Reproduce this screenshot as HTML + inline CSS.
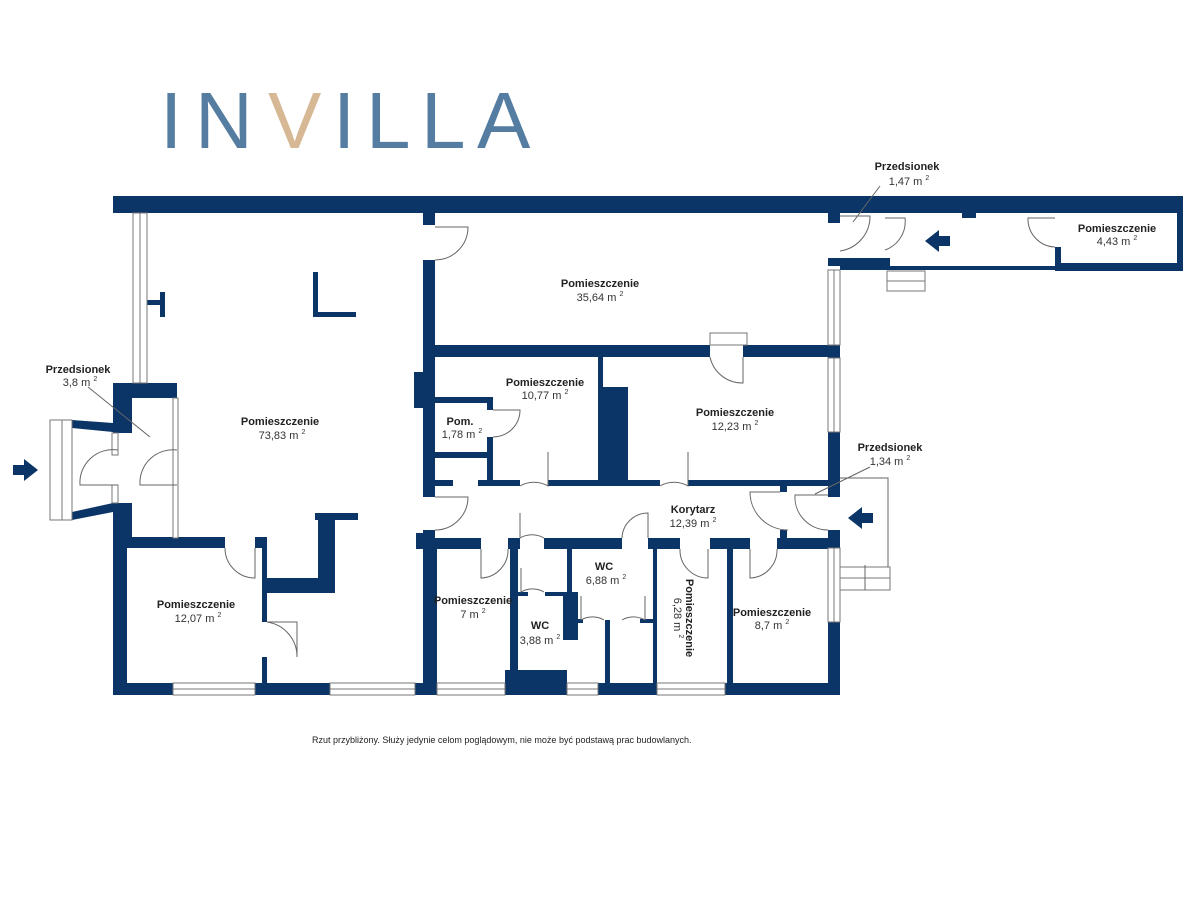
<!DOCTYPE html>
<html><head><meta charset="utf-8"><style>
html,body{margin:0;padding:0;background:#fff;width:1200px;height:900px;overflow:hidden}
svg{display:block}
.b{font:bold 11px "Liberation Sans",sans-serif;fill:#222}
.n{font:11px "Liberation Sans",sans-serif;fill:#333}
</style></head><body>
<svg width="1200" height="900" viewBox="0 0 1200 900" xmlns="http://www.w3.org/2000/svg">
<!-- logo -->
<g font-family="Liberation Sans, sans-serif" font-size="80" fill="#557da1">
<text x="160" y="148">I</text><text x="195" y="148">N</text>
<text x="268" y="148" fill="#d7b894">V</text>
<text x="333" y="148">I</text><text x="366" y="148">L</text><text x="421" y="148">L</text><text x="477" y="148">A</text>
</g>
<g fill="#0b3566">
<rect x="113" y="196" width="1070" height="17"/>
<rect x="1177" y="196" width="6" height="75"/>
<rect x="1055" y="247" width="6" height="24"/>
<rect x="1055" y="263" width="128" height="8"/>
<rect x="840" y="266" width="215" height="4"/>
<rect x="828" y="258" width="62" height="8"/>
<rect x="962" y="210" width="14" height="8"/>
<rect x="113" y="383" width="64" height="15"/>
<rect x="113" y="383" width="19" height="50"/>
<rect x="113" y="503" width="19" height="45"/>
<rect x="113" y="537" width="64" height="11"/>
<rect x="113" y="537" width="14" height="158"/>
<rect x="127" y="537" width="98" height="11"/>
<rect x="255" y="537" width="12" height="11"/>
<rect x="262" y="545" width="5" height="77"/>
<rect x="262" y="657" width="5" height="30"/>
<rect x="262" y="578" width="58" height="15"/>
<rect x="318" y="513" width="17" height="80"/>
<rect x="315" y="513" width="43" height="7"/>
<polygon points="72,420 113,423 113,432 72,428"/>
<polygon points="72,512 113,503 113,512 72,520"/>
<rect x="147" y="300" width="18" height="5"/><rect x="160" y="292" width="5" height="25"/>
<rect x="313" y="272" width="5" height="45"/><rect x="313" y="312" width="43" height="5"/>
<rect x="423" y="213" width="12" height="12"/>
<rect x="423" y="260" width="12" height="237"/>
<rect x="414" y="372" width="10" height="36"/>
<rect x="423" y="530" width="12" height="165"/>
<rect x="416" y="533" width="19" height="16"/>
<rect x="433" y="345" width="277" height="12"/>
<rect x="743" y="345" width="97" height="12"/>
<rect x="598" y="357" width="5" height="126"/>
<rect x="598" y="387" width="30" height="96"/>
<rect x="433" y="397" width="60" height="6"/>
<rect x="487" y="397" width="6" height="13"/>
<rect x="487" y="437" width="6" height="45"/>
<rect x="433" y="452" width="60" height="6"/>
<rect x="433" y="480" width="20" height="6"/>
<rect x="478" y="480" width="42" height="6"/>
<rect x="548" y="480" width="112" height="6"/>
<rect x="688" y="480" width="140" height="6"/>
<rect x="780" y="484" width="7" height="8"/>
<rect x="780" y="530" width="7" height="10"/>
<rect x="433" y="538" width="48" height="11"/>
<rect x="508" y="538" width="12" height="11"/>
<rect x="544" y="538" width="78" height="11"/>
<rect x="648" y="538" width="32" height="11"/>
<rect x="710" y="538" width="40" height="11"/>
<rect x="777" y="538" width="63" height="11"/>
<rect x="433" y="545" width="4" height="150"/>
<rect x="510" y="545" width="8" height="150"/>
<rect x="567" y="545" width="5" height="50"/>
<rect x="563" y="592" width="15" height="48"/>
<rect x="518" y="592" width="10" height="4"/>
<rect x="545" y="592" width="30" height="4"/>
<rect x="605" y="620" width="5" height="65"/>
<rect x="578" y="619" width="5" height="4"/><rect x="640" y="619" width="15" height="4"/>
<rect x="653" y="545" width="4" height="150"/>
<rect x="727" y="545" width="6" height="150"/>
<rect x="828" y="213" width="12" height="10"/>
<rect x="828" y="345" width="12" height="13"/>
<rect x="828" y="432" width="12" height="65"/>
<rect x="828" y="530" width="12" height="18"/>
<rect x="828" y="622" width="12" height="73"/>
<rect x="113" y="683" width="60" height="12"/>
<rect x="255" y="683" width="75" height="12"/>
<rect x="415" y="683" width="22" height="12"/>
<rect x="505" y="670" width="62" height="25"/>
<rect x="598" y="683" width="59" height="12"/>
<rect x="725" y="683" width="115" height="12"/>
<polygon points="13,465 24,465 24,459 38,470 24,481 24,475 13,475"/>
<polygon points="950,236 939,236 939,230 925,241 939,252 939,246 950,246"/>
<polygon points="873,513 862,513 862,507 848,518 862,529 862,523 873,523"/>
</g>
<g fill="#fff" stroke="#777" stroke-width="1">
<rect x="133" y="213" width="14" height="170"/><line x1="140" y1="213" x2="140" y2="383"/>
<rect x="173" y="398" width="5" height="140"/>
<rect x="112" y="433" width="6" height="22"/><rect x="112" y="485" width="6" height="18"/>
<rect x="173" y="683" width="82" height="12"/><line x1="173" y1="689" x2="255" y2="689"/>
<rect x="330" y="683" width="85" height="12"/><line x1="330" y1="689" x2="415" y2="689"/>
<rect x="437" y="683" width="68" height="12"/><line x1="437" y1="689" x2="505" y2="689"/>
<rect x="567" y="683" width="31" height="12"/><line x1="567" y1="689" x2="598" y2="689"/>
<rect x="657" y="683" width="68" height="12"/><line x1="657" y1="689" x2="725" y2="689"/>
<rect x="828" y="270" width="12" height="75"/><line x1="834" y1="270" x2="834" y2="345"/>
<rect x="828" y="358" width="12" height="74"/><line x1="834" y1="358" x2="834" y2="432"/>
<rect x="828" y="548" width="12" height="74"/><line x1="834" y1="548" x2="834" y2="622"/>
<rect x="50" y="420" width="22" height="100"/><line x1="62" y1="420" x2="62" y2="520"/>
<rect x="710" y="333" width="37" height="12"/>
<rect x="887" y="271" width="38" height="20"/><line x1="887" y1="281" x2="925" y2="281"/>
<rect x="840" y="567" width="50" height="23"/><line x1="840" y1="578" x2="890" y2="578"/>
</g>
<g fill="none" stroke="#666" stroke-width="1">
<polyline points="840,478 888,478 888,567"/>
<path d="M435,227 H468 A33,33 0 0 1 435,260"/>
<path d="M743,357 V383 A33,33 0 0 1 710,357"/>
<path d="M493,410 H520 A27,27 0 0 1 493,437"/>
<path d="M548,452 V486 A28,28 0 0 0 520,486"/>
<path d="M688,452 V486 A28,28 0 0 0 660,486"/>
<path d="M435,497 H468 A33,33 0 0 1 435,530"/>
<path d="M481,549 V578 A28,28 0 0 0 508,549"/>
<path d="M520,513 V538 A24,24 0 0 1 544,538"/>
<path d="M622,538 A26,26 0 0 1 648,513 V538"/>
<path d="M680,549 A28,28 0 0 0 708,578 V549"/>
<path d="M750,549 V578 A28,28 0 0 0 777,549"/>
<path d="M521,568 V592 A23,23 0 0 1 544,592"/>
<path d="M581,596 V620 A23,23 0 0 1 604,620"/>
<path d="M645,596 V620 A23,23 0 0 0 622,620"/>
<path d="M780,492 H750 A38,38 0 0 0 788,530"/>
<path d="M828,495 H795 A33,33 0 0 0 828,530"/>
<path d="M225,548 A30,30 0 0 0 255,578 V548"/>
<path d="M267,622 H297 V657 A35,35 0 0 0 267,622"/>
<path d="M177,450 A33,33 0 0 0 140,485 H177"/>
<path d="M118,450 A33,33 0 0 0 80,485 H118"/>
<path d="M840,216 H870 A35,35 0 0 1 840,251"/>
<path d="M885,218 H905 A30,30 0 0 1 885,250"/>
<path d="M1055,218 H1028 A28,28 0 0 0 1055,247"/>
<line x1="88" y1="387" x2="150" y2="437"/>
<line x1="880" y1="186" x2="853" y2="222"/>
<line x1="870" y1="467" x2="815" y2="494"/>
<line x1="865" y1="590" x2="865" y2="565"/>
</g>
<g text-anchor="middle">
<text class="b" x="600" y="287">Pomieszczenie</text><text class="n" x="600" y="301">35,64 m <tspan font-size="7" dy="-5">2</tspan></text>
<text class="b" x="545" y="386">Pomieszczenie</text><text class="n" x="545" y="399">10,77 m <tspan font-size="7" dy="-5">2</tspan></text>
<text class="b" x="460" y="425">Pom.</text><text class="n" x="462" y="438">1,78 m <tspan font-size="7" dy="-5">2</tspan></text>
<text class="b" x="735" y="416">Pomieszczenie</text><text class="n" x="735" y="430">12,23 m <tspan font-size="7" dy="-5">2</tspan></text>
<text class="b" x="280" y="425">Pomieszczenie</text><text class="n" x="282" y="439">73,83 m <tspan font-size="7" dy="-5">2</tspan></text>
<text class="b" x="78" y="373">Przedsionek</text><text class="n" x="80" y="386">3,8 m <tspan font-size="7" dy="-5">2</tspan></text>
<text class="b" x="196" y="608">Pomieszczenie</text><text class="n" x="198" y="622">12,07 m <tspan font-size="7" dy="-5">2</tspan></text>
<text class="b" x="473" y="604">Pomieszczenie</text><text class="n" x="473" y="618">7 m <tspan font-size="7" dy="-5">2</tspan></text>
<text class="b" x="540" y="629">WC</text><text class="n" x="540" y="644">3,88 m <tspan font-size="7" dy="-5">2</tspan></text>
<text class="b" x="604" y="570">WC</text><text class="n" x="606" y="584">6,88 m <tspan font-size="7" dy="-5">2</tspan></text>
<text class="b" x="772" y="616">Pomieszczenie</text><text class="n" x="772" y="629">8,7 m <tspan font-size="7" dy="-5">2</tspan></text>
<text class="b" x="693" y="513">Korytarz</text><text class="n" x="693" y="527">12,39 m <tspan font-size="7" dy="-5">2</tspan></text>
<text class="b" x="890" y="451">Przedsionek</text><text class="n" x="890" y="465">1,34 m <tspan font-size="7" dy="-5">2</tspan></text>
<text class="b" x="907" y="170">Przedsionek</text><text class="n" x="909" y="185">1,47 m <tspan font-size="7" dy="-5">2</tspan></text>
<text class="b" x="1117" y="232">Pomieszczenie</text><text class="n" x="1117" y="245">4,43 m <tspan font-size="7" dy="-5">2</tspan></text>
<text class="b" transform="translate(686,618) rotate(90)">Pomieszczenie</text>
<text class="n" transform="translate(674,618) rotate(90)">6,28 m <tspan font-size="7" dy="-5">2</tspan></text>
</g>
<text x="312" y="743" font-family="Liberation Sans, sans-serif" font-size="9" fill="#222">Rzut przybliżony. Służy jedynie celom poglądowym, nie może być podstawą prac budowlanych.</text>
</svg>
</body></html>
